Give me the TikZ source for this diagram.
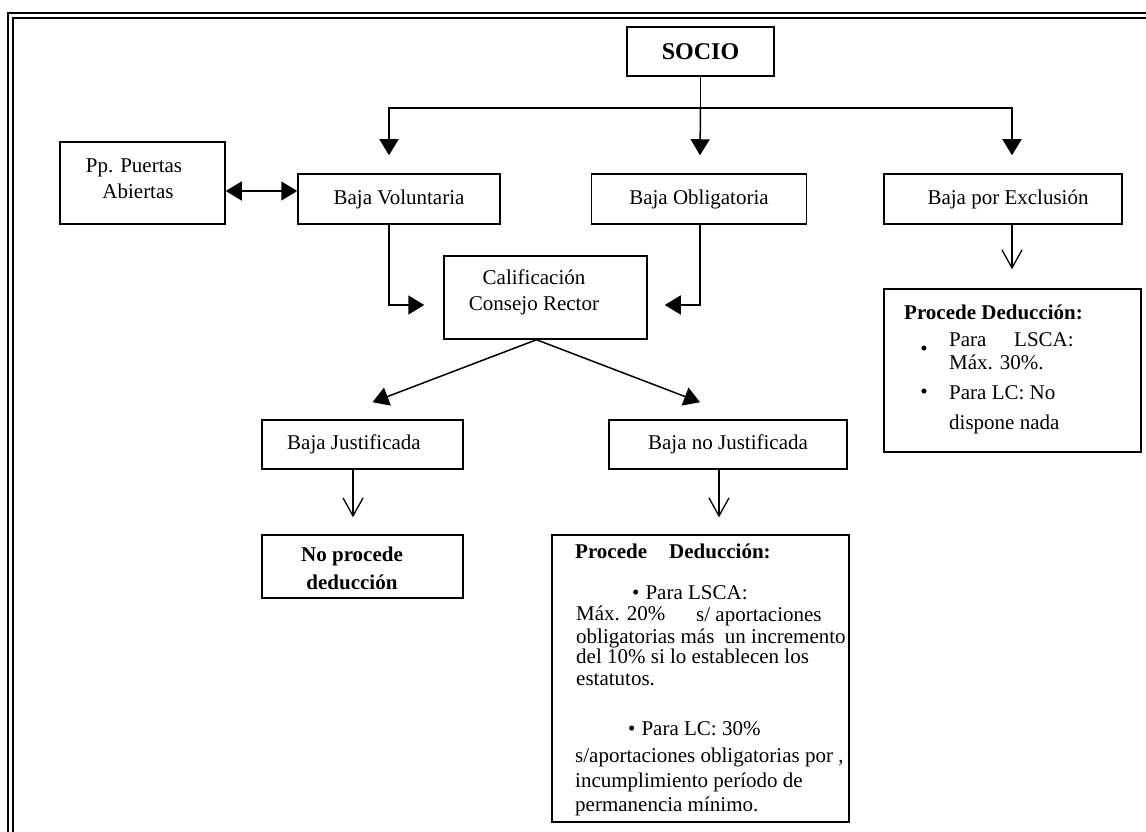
\documentclass[tikz,border=0pt]{standalone}
\usepackage{fontspec}
\setmainfont{Liberation Serif}
\usetikzlibrary{arrows.meta}

\tikzset{
	caja/.style={draw, line width=1.5pt, inner sep=0pt, align=center},
	linea/.style={anchor=base west, inner sep=0pt},
	flecha/.style={-{Triangle[width=19pt,length=16pt]}, line width=1.5pt},
	doble/.style={{Triangle[width=19pt,length=16pt]}-{Triangle[width=19pt,length=16pt]}, line width=1.5pt},
	abierta/.style={-{Straight Barb[width=20pt,length=18pt,line width=1.3pt]}, line width=1.5pt}
}

\begin{document}
\begin{tikzpicture}[x=1pt, y=-1pt, font=\fontsize{21}{26}\selectfont]
	\useasboundingbox (0,0) rectangle (1146,832);
	% marco
	\draw[line width=2.4pt] (8,832) -- (8,13) -- (1146,13);
	\draw[line width=1.6pt] (13,832) -- (13,18) -- (1146,18);

	% cajas
	\node[caja, minimum width=147pt, minimum height=49pt] (socio) at (700.5,51.5) {\fontsize{24}{28}\selectfont\bfseries SOCIO};
	\node[caja, minimum width=165pt, minimum height=82pt] (puertas) at (142.5,183) {};
	\node[caja, minimum width=202pt, minimum height=50pt] (bvol) at (399,199) {Baja Voluntaria};
	\node[caja, minimum width=215pt, minimum height=50pt] (bobl) at (699,199) {Baja Obligatoria};
	\node[caja, minimum width=238pt, minimum height=50pt] (bexc) at (1003,199) {};
	\node[caja, minimum width=203pt, minimum height=83pt] (calif) at (545.5,297.5) {};
	\node[caja, minimum width=201pt, minimum height=49pt] (bjus) at (362.5,444.5) {};
	\node[caja, minimum width=238pt, minimum height=49pt] (bnojus) at (728,444.5) {Baja no Justificada};
	\node[caja, minimum width=201pt, minimum height=63pt] (nopro) at (362.5,566.5) {};
	\node[caja, minimum width=297pt, minimum height=287pt] (dednj) at (700.5,678.5) {};
	\node[caja, minimum width=257pt, minimum height=163pt] (dedex) at (1012.5,370.5) {};

	% textos de las cajas
	\node[align=center] (tpuertas) at (134,178.5) {Pp. Puertas\\\hspace*{8pt}Abiertas};
	\node (tbexc) at (1008,199) {Baja por Exclusión};
	\node[align=center] (tcalif) at (534,292.5) {Calificación\\Consejo Rector};
	\node (tbjus) at (354,444.5) {Baja Justificada};
	\node[align=center, font=\fontsize{21}{28}\selectfont\bfseries] (tnopro) at (352,568) {No procede\\deducción};

	% texto baja por exclusion
	\node[linea] (ex1) at (904,319) {\bfseries Procede Deducción:};
	\node (ex2) at (924,351) {\textbullet};
	\node[linea] (ex3) at (949,346) {Para};
	\node[linea] (ex4) at (1014,346) {LSCA:};
	\node[linea] (ex5) at (949,369) {Máx. 30\%.};
	\node (ex6) at (924,394) {\textbullet};
	\node[linea] (ex7) at (949,399) {Para LC: No};
	\node[linea] (ex8) at (949,429) {dispone nada};

	% texto baja no justificada
	\node[linea] (nj1) at (575,558) {\bfseries Procede};
	\node[linea] (nj2) at (669,558) {\bfseries Deducción:};
	\node[linea] (nj3) at (632,599) {\textbullet\hspace{6pt}Para LSCA:};
	\node[linea] (nj4) at (576,620) {Máx. 20\%};
	\node[linea] (nj5) at (696,621) {s/ aportaciones};
	\node[linea] (nj6) at (576,643) {obligatorias más \ un incremento};
	\node[linea] (nj7) at (576,663) {del 10\% si lo establecen los};
	\node[linea] (nj8) at (576,685) {estatutos.};
	\node[linea] (nj9) at (628,735) {\textbullet\hspace{6pt}Para LC: 30\%};
	\node[linea] (nj10) at (575,762) {s/aportaciones obligatorias por ,};
	\node[linea] (nj11) at (575,787) {incumplimiento período de};
	\node[linea] (nj12) at (575,811) {permanencia mínimo.};

	% conectores
	\coordinate (reparto) at (socio.south |- 0,108);
	\draw[line width=1.5pt] (socio.south) -- (reparto);
	\draw[flecha] (reparto) -| ([xshift=-10pt,yshift=18pt]bvol.north);
	\draw[flecha] (reparto) -- ([xshift=1pt,yshift=18pt]bobl.north);
	\draw[flecha] (reparto) -| ([xshift=9pt,yshift=18pt]bexc.north);
	\draw[doble] (puertas.east |- 0,191) -- (bvol.west |- 0,191);
	\draw[flecha, shorten >=19pt] ([xshift=-10pt]bvol.south) |- ([yshift=-7.5pt]calif.west);
	\draw[flecha, shorten >=17pt] ([xshift=1pt]bobl.south) |- ([yshift=-7.5pt]calif.east);
	\draw[flecha] ([xshift=-9pt]calif.south) -- ([xshift=10pt,yshift=17pt]bjus.north);
	\draw[flecha] ([xshift=-9pt]calif.south) -- ([xshift=-28pt,yshift=17pt]bnojus.north);

	\coordinate (sj) at ([xshift=-9.5pt]bjus.south);
	\coordinate (snj) at ([xshift=-9pt]bnojus.south);
	\coordinate (sex) at ([xshift=9pt]bexc.south);
	\draw[abierta, shorten >=17pt] (sj) -- (sj |- nopro.north);
	\draw[abierta, shorten >=17pt] (snj) -- (snj |- dednj.north);
	\draw[abierta, shorten >=19pt] (sex) -- (sex |- dedex.north);
\end{tikzpicture}
\end{document}
